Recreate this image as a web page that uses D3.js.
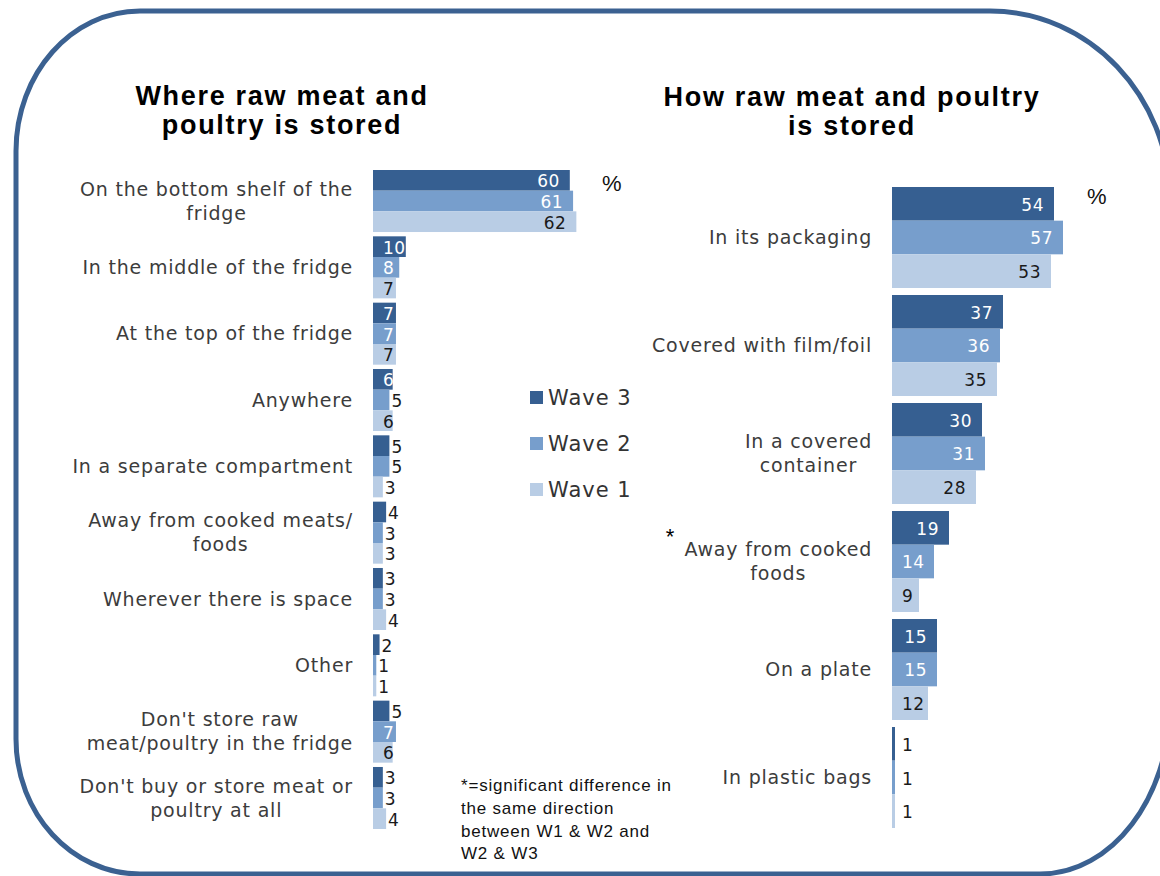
<!DOCTYPE html>
<html>
<head>
<meta charset="utf-8">
<script src="https://cdn.jsdelivr.net/npm/d3@7"></script>
<style>
  html, body { margin: 0; padding: 0; background: #fff; }
  svg { display: block; }
</style>
</head>
<body>
<svg id="chart" width="1160" height="876"></svg>
<script>
// ---- Data ----------------------------------------------------------------
const waves = ["Wave 3", "Wave 2", "Wave 1"];

// Where raw meat and poultry is stored (%)
const whereCategories = [
  "On the bottom shelf of the\nfridge",
  "In the middle of the fridge",
  "At the top of the fridge",
  "Anywhere",
  "In a separate compartment",
  "Away from cooked meats/\nfoods",
  "Wherever there is space",
  "Other",
  "Don't store raw\nmeat/poultry in the fridge",
  "Don't buy or store meat or\npoultry at all"
];
const whereWave3 = [60, 10, 7, 6, 5, 4, 3, 2, 5, 3];
const whereWave2 = [61, 8, 7, 5, 5, 3, 3, 1, 7, 3];
const whereWave1 = [62, 7, 7, 6, 3, 3, 4, 1, 6, 4];

// How raw meat and poultry is stored (%)
const howCategories = [
  "In its packaging",
  "Covered with film/foil",
  "In a covered\ncontainer",
  "Away from cooked\nfoods",
  "On a plate",
  "In plastic bags"
];
const howWave3 = [54, 37, 30, 19, 15, 1];
const howWave2 = [57, 36, 31, 14, 15, 1];
const howWave1 = [53, 35, 28, 9, 12, 1];
const howSignificant = [false, false, false, true, false, false];

const colors = { "Wave 3": "#365f91", "Wave 2": "#779ecc", "Wave 1": "#b9cde5" };

// ---- Drawing -------------------------------------------------------------
const svg = d3.select("#chart");
const labelFont = "'DejaVu Sans', Verdana, sans-serif";
const titleFont = "'Liberation Sans', Arial, sans-serif";

// Rounded frame around both panels
(function drawFrame() {
  const L = 16, T = 11, R = 1170, B = 874;
  const k = 0.552;
  const p = d3.path();
  p.moveTo(L + 124, T);
  p.lineTo(R - 180, T);
  p.bezierCurveTo(R - 180 + 180 * k, T, R, T + 190 - 190 * k, R, T + 190);
  p.lineTo(R, B - 170);
  p.bezierCurveTo(R, B - 170 + 170 * k, R - 130 + 130 * k, B, R - 130, B);
  p.lineTo(L + 124, B);
  p.bezierCurveTo(L + 124 - 124 * k, B, L, B - 135 + 135 * k, L, B - 135);
  p.lineTo(L, T + 140);
  p.bezierCurveTo(L, T + 140 - 140 * k, L + 124 - 124 * k, T, L + 124, T);
  p.closePath();
  svg.append("path")
    .attr("d", p.toString())
    .attr("fill", "none")
    .attr("stroke", "#3b6191")
    .attr("stroke-width", 5);
})();

function panel(opts) {
  const g = svg.append("g");
  const rows = opts.categories.map((c, i) => ({
    label: c,
    values: waves.map((w, k) => ({ wave: w, value: opts.series[k][i] })),
    sig: opts.sig ? opts.sig[i] : false
  }));

  const y = d3.scaleBand()
    .domain(d3.range(rows.length))
    .range(opts.yRange)
    .paddingInner(opts.padding)
    .paddingOuter(0);
  const yInner = d3.scaleBand().domain(waves).range([0, y.bandwidth()]);
  const x = d3.scaleLinear().domain([0, 100]).range([opts.x0, opts.x0 + opts.pxPerUnit * 100]);

  // Title
  const title = g.append("text")
    .attr("x", opts.titleX).attr("y", opts.titleY)
    .attr("text-anchor", "middle")
    .attr("font-family", titleFont).attr("font-weight", "bold")
    .attr("font-size", 27).attr("letter-spacing", 1.7).attr("fill", "#000");
  opts.title.forEach((t, i) => {
    title.append("tspan").attr("x", opts.titleX).attr("dy", i === 0 ? 0 : 29).text(t);
  });

  const grp = g.selectAll("g.row").data(rows).join("g")
    .attr("class", "row")
    .attr("transform", (d, i) => `translate(0,${y(i)})`);

  grp.selectAll("rect").data(d => d.values).join("rect")
    .attr("x", x(0))
    .attr("y", d => yInner(d.wave))
    .attr("width", d => x(d.value) - x(0))
    .attr("height", yInner.bandwidth())
    .attr("fill", d => colors[d.wave]);

  // Value labels: inside end (kept clear of the axis) or just past the bar end
  grp.selectAll("text.val").data(d => d.values).join("text")
    .attr("class", "val")
    .attr("font-family", labelFont)
    .attr("font-size", 17)
    .attr("letter-spacing", 0.5)
    .attr("dominant-baseline", "central")
    .attr("text-anchor", "start")
    .attr("y", d => yInner(d.wave) + yInner.bandwidth() / 2 + 1)
    .text(d => d.value)
    .each(function (d) {
      const el = d3.select(this);
      const end = x(d.value);
      if (d.value >= opts.insideMin) {
        const w = this.getComputedTextLength();
        const sx = Math.max(x(0) + opts.pad, end - opts.pad - w);
        const onBar = sx < end - 2;
        el.attr("x", sx)
          .attr("fill", onBar && d.wave !== "Wave 1" ? "#ffffff" : "#1a1a1a");
      } else {
        el.attr("x", end + 2).attr("fill", "#1a1a1a");
      }
    });

  // Category labels: lines centred on each other, block right-aligned
  grp.append("text")
    .attr("class", "cat")
    .attr("text-anchor", "middle")
    .attr("font-family", labelFont)
    .attr("font-size", 19)
    .attr("letter-spacing", 0.8)
    .attr("fill", "#3c3c3c")
    .each(function (d) {
      const lines = d.label.split("\n");
      const lh = 24;
      const mid = y.bandwidth() / 2;
      const t = d3.select(this);
      const spans = lines.map((ln, k) => t.append("tspan")
        .attr("y", mid + (k - (lines.length - 1) / 2) * lh)
        .attr("dy", "0.35em")
        .text(ln));
      const w = d3.max(spans, s => s.node().getComputedTextLength());
      spans.forEach(s => s.attr("x", opts.labelX - w / 2));
    });

  // Significance marker
  grp.filter(d => d.sig).append("text")
    .attr("x", opts.sigX)
    .attr("y", y.bandwidth() / 2 - 17)
    .attr("text-anchor", "middle")
    .attr("font-family", titleFont)
    .attr("font-size", 22)
    .attr("fill", "#000")
    .text("*");

  // Percent sign
  g.append("text")
    .attr("x", opts.pctX).attr("y", opts.pctY)
    .attr("font-family", titleFont).attr("font-size", 22)
    .attr("dominant-baseline", "central")
    .attr("fill", "#111")
    .text("%");
}

panel({
  title: ["Where raw meat and", "poultry is stored"],
  titleX: 282, titleY: 105,
  categories: whereCategories,
  series: [whereWave3, whereWave2, whereWave1],
  yRange: [170, 829],
  padding: 0.065,
  x0: 373, pxPerUnit: 3.28,
  labelX: 353,
  insideMin: 6, pad: 10,
  pctX: 602, pctY: 183
});

panel({
  title: ["How raw meat and poultry", "is stored"],
  titleX: 852, titleY: 106,
  categories: howCategories,
  series: [howWave3, howWave2, howWave1],
  sig: howSignificant,
  yRange: [187, 828],
  padding: 0.065,
  x0: 892, pxPerUnit: 3.0,
  labelX: 872,
  insideMin: 0, pad: 10,
  sigX: 670,
  pctX: 1087, pctY: 196
});

// Legend
const legend = svg.append("g").attr("transform", "translate(530,391)");
const li = legend.selectAll("g").data(waves).join("g")
  .attr("transform", (d, i) => `translate(0,${i * 46})`);
li.append("rect").attr("width", 13).attr("height", 13).attr("fill", d => colors[d]);
li.append("text")
  .attr("x", 18).attr("y", 7)
  .attr("dominant-baseline", "central")
  .attr("font-family", labelFont).attr("font-size", 21)
  .attr("letter-spacing", 1)
  .attr("fill", "#333")
  .text(d => d);

// Note on significance
const note = svg.append("text")
  .attr("font-family", titleFont).attr("font-size", 17)
  .attr("letter-spacing", 0.8).attr("fill", "#111");
["*=significant difference in", "the same direction", "between W1 & W2 and", "W2 & W3"]
  .forEach((t, i) => {
    note.append("tspan").attr("x", 461).attr("y", 791 + i * 22.8).text(t);
  });
</script>
</body>
</html>
